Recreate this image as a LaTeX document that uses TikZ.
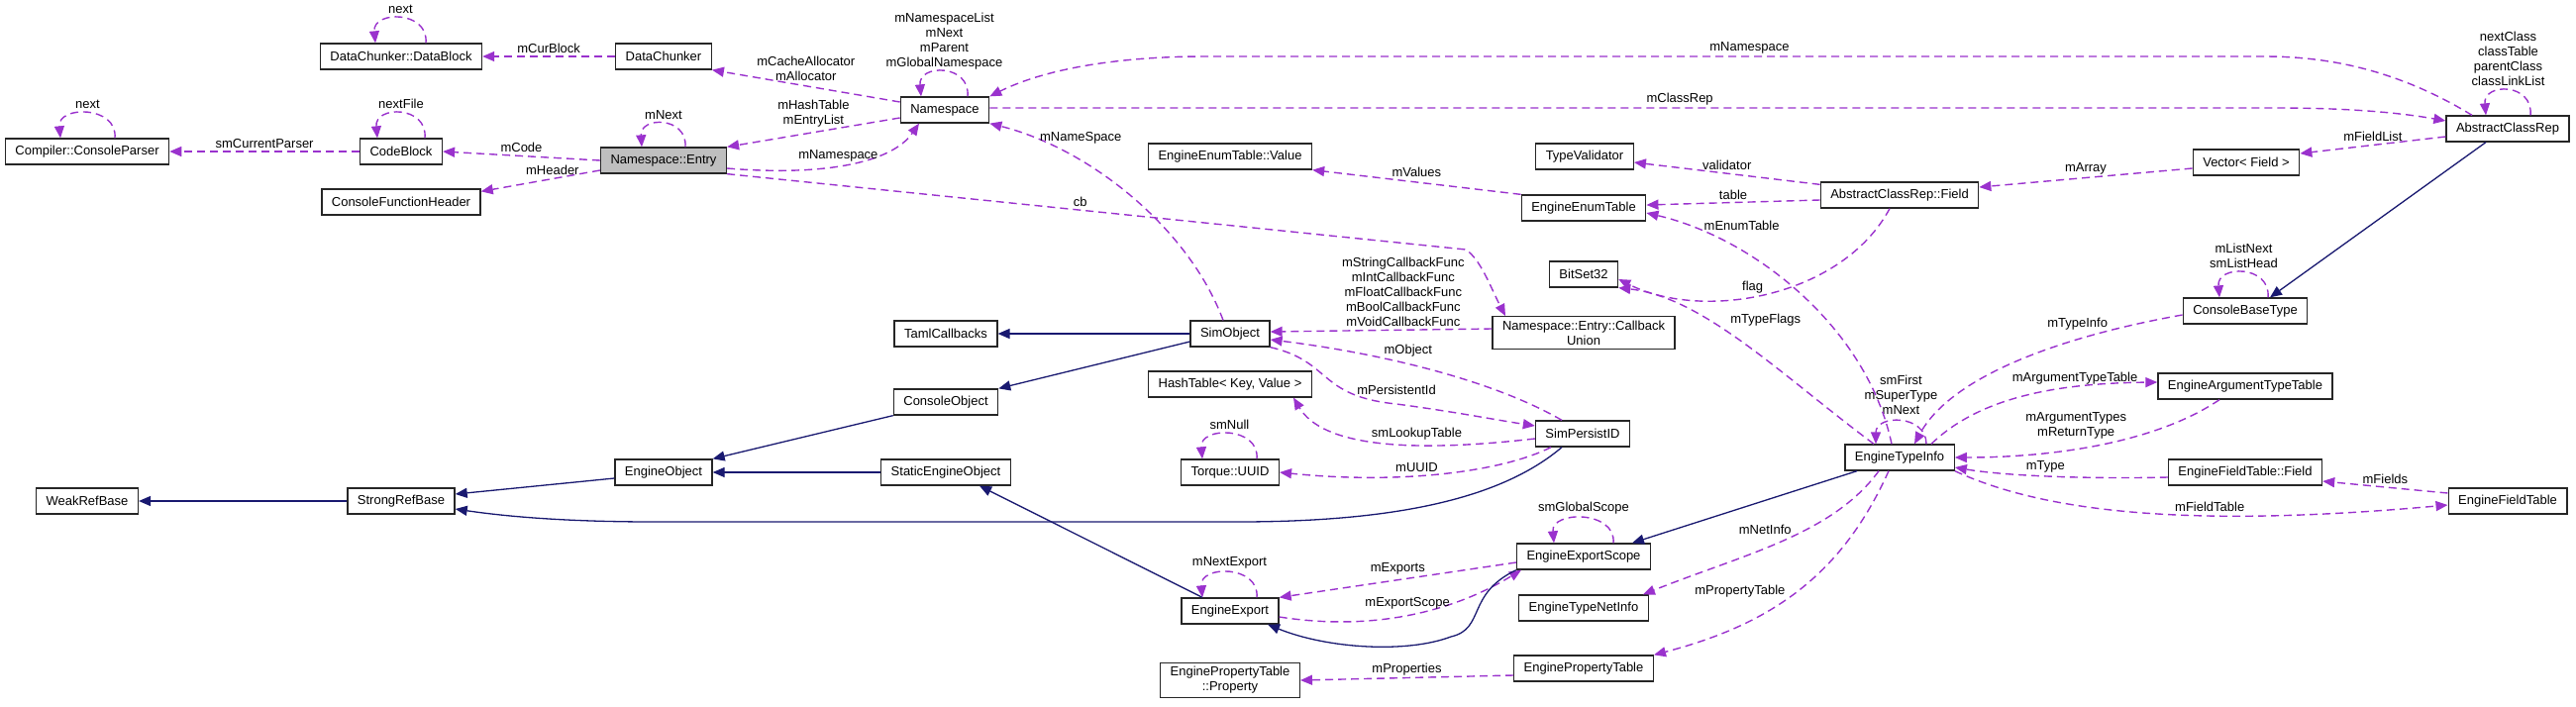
\documentclass[tikz,border=0pt]{standalone}
\usepackage{fontspec}
\setmainfont{Liberation Sans}
\usepackage{xcolor}
\usepackage{tikz}
\usetikzlibrary{arrows.meta, calc}
\definecolor{usecol}{HTML}{9A32CD}
\definecolor{inhcol}{HTML}{191970}

\begin{document}
\begin{tikzpicture}[
    x=1pt, y=-1pt,
    font=\fontsize{13}{15}\selectfont,
    cls/.style={rectangle, draw=black!85, line width=1.3pt, fill=white, minimum height=26pt, inner xsep=10pt, inner ysep=4pt, align=center},
    focus/.style={cls, fill=black!25},
    member/.style={draw=usecol, line width=1.4pt, dash pattern=on 8pt off 5pt, -{Triangle[length=12pt, width=10pt]}},
    derived/.style={draw=inhcol, line width=1.3pt, -{Triangle[length=12pt, width=10pt]}},
    lbl/.style={inner sep=1pt, align=center}
]
\useasboundingbox (0,0) rectangle (2601,713);

% classes
\node[cls] (dblock) at (405,57) {DataChunker::DataBlock};
\node[cls] (chunker) at (670,57) {DataChunker};
\node[cls] (ns) at (954,111) {Namespace};
\node[cls] (parser) at (88,153) {Compiler::ConsoleParser};
\node[cls] (codeblk) at (405,153) {CodeBlock};
\node[focus] (entry) at (670,162) {Namespace::Entry};
\node[cls] (fnhdr) at (405,204) {ConsoleFunctionHeader};
\node[cls] (enumval) at (1242,158) {EngineEnumTable::Value};
\node[cls] (validator) at (1600,158) {TypeValidator};
\node[cls] (enumtab) at (1599,210) {EngineEnumTable};
\node[cls] (acr) at (2532,130) {AbstractClassRep};
\node[cls] (fieldvec) at (2268,164) {Vector< Field >};
\node[cls] (acrfield) at (1918,197) {AbstractClassRep::Field};
\node[cls] (cbt) at (2267,314) {ConsoleBaseType};
\node[cls] (bitset) at (1599,277) {BitSet32};
\node[cls] (cbunion) at (1599,336) {Namespace::Entry::Callback\\Union};
\node[cls] (taml) at (955,337) {TamlCallbacks};
\node[cls] (simobj) at (1242,337) {SimObject};
\node[cls] (conobj) at (955,406) {ConsoleObject};
\node[cls] (hashtab) at (1242,388) {HashTable< Key, Value >};
\node[cls] (persist) at (1598,438) {SimPersistID};
\node[cls] (engobj) at (670,477) {EngineObject};
\node[cls] (staticobj) at (955,477) {StaticEngineObject};
\node[cls] (uuid) at (1242,477) {Torque::UUID};
\node[cls] (weakref) at (88,506) {WeakRefBase};
\node[cls] (strongref) at (405,506) {StrongRefBase};
\node[cls] (typeinfo) at (1918,462) {EngineTypeInfo};
\node[cls] (argtab) at (2267,390) {EngineArgumentTypeTable};
\node[cls] (fieldtabf) at (2267,477) {EngineFieldTable::Field};
\node[cls] (fieldtab) at (2532,506) {EngineFieldTable};
\node[cls] (scope) at (1599,562) {EngineExportScope};
\node[cls] (export) at (1242,617) {EngineExport};
\node[cls] (netinfo) at (1599,614) {EngineTypeNetInfo};
\node[cls] (proptab) at (1599,675) {EnginePropertyTable};
\node[cls] (prop) at (1242,687) {EnginePropertyTable\\::Property};

% self references
\draw[member] ([xshift=25pt]dblock.north) .. controls +(3,-33) and +(-3,-33) .. ([xshift=-26pt]dblock.north) node[lbl, midway, above=3pt] {next};
\draw[member] ([xshift=28pt]parser.north) .. controls +(3,-33) and +(-3,-33) .. ([xshift=-27pt]parser.north) node[lbl, midway, above=3pt] {next};
\draw[member] ([xshift=24pt]codeblk.north) .. controls +(3,-33) and +(-3,-33) .. ([xshift=-24pt]codeblk.north) node[lbl, midway, above=3pt] {nextFile};
\draw[member] ([xshift=22pt]entry.north) .. controls +(2,-31) and +(-2,-31) .. ([xshift=-22pt]entry.north) node[lbl, midway, above=3pt] {mNext};
\draw[member] ([xshift=23pt]ns.north) .. controls +(3,-33) and +(-3,-33) .. ([xshift=-24pt]ns.north) node[lbl, midway, above=1pt] {mNamespaceList\\mNext\\mParent\\mGlobalNamespace};
\draw[member] ([xshift=23pt]acr.north) .. controls +(3,-33) and +(-3,-33) .. ([xshift=-22pt]acr.north) node[lbl, midway, above=3pt] {nextClass\\classTable\\parentClass\\classLinkList};
\draw[member] ([xshift=23pt]cbt.north) .. controls +(3,-33) and +(-3,-33) .. ([xshift=-26pt]cbt.north) node[lbl, midway, above=3pt] {mListNext\\smListHead};
\draw[member] ([xshift=27pt]uuid.north) .. controls +(3,-33) and +(-3,-33) .. ([xshift=-28pt]uuid.north) node[lbl, midway, above=3pt] {smNull};
\draw[member] ([xshift=27pt]export.north) .. controls +(3,-33) and +(-3,-33) .. ([xshift=-28pt]export.north) node[lbl, midway, above=3pt] {mNextExport};
\draw[member] ([xshift=30pt]scope.north) .. controls +(3,-33) and +(-3,-33) .. ([xshift=-30pt]scope.north) node[lbl, midway, above=3pt] {smGlobalScope};
\draw[member] ([xshift=27pt]typeinfo.north) .. controls +(0,-30) and +(0,-30) .. ([xshift=-24pt]typeinfo.north) node[lbl, midway, above=6pt] {smFirst\\mSuperType\\mNext};

% members
\draw[member] (chunker.west) -- (dblock.east) node[lbl, midway, above=2pt] {mCurBlock};
\draw[member] (ns.170) -- (chunker.south east) node[lbl, midway, above=4pt] {mCacheAllocator\\mAllocator};
\draw[member] (codeblk.west) -- (parser.east) node[lbl, midway, above=2pt] {smCurrentParser};
\draw[member] (entry.west) -- (codeblk.east) node[lbl, midway, above=2pt] {mCode};
\draw[member] ([yshift=-10pt]entry.west) -- ([yshift=-3pt]fnhdr.north east) node[lbl, pos=0.4, above=2pt] {mHeader};
\draw[member] (ns.190) -- (entry.north east) node[lbl, midway, above=4pt] {mHashTable\\mEntryList};
\draw[member] ([yshift=-8pt]entry.east) .. controls (830,178) and (900,165) .. ([xshift=-26pt]ns.south) node[lbl, pos=0.45, above=3pt] {mNamespace};
\draw[member] ([xshift=-36pt]acr.north) .. controls (2420,70) and (2350,57) .. (2286,57) -- (1217,57) node[lbl, pos=0.486, above=1pt] {mNamespace} .. controls (1120,57) and (1050,72) .. (ns.north east);
\draw[member] ([yshift=2pt]ns.east) -- (2300,109) node[lbl, pos=0.5357, above=1pt] {mClassRep} .. controls (2380,109) and (2430,115) .. ([yshift=8pt]acr.west);
\draw[member] ([xshift=-7pt]simobj.north) .. controls (1200,230) and (1100,150) .. (ns.south east) node[lbl, pos=0.85, right=4pt] {mNameSpace};
\draw[member] (entry.south east) -- (1480,252) node[lbl, pos=0.478, above=2pt] {cb} .. controls (1495,262) and (1505,290) .. ([xshift=-79pt]cbunion.north);
\draw[member] (enumtab.north west) -- (enumval.south east) node[lbl, midway, above=4pt] {mValues};
\draw[member] ([yshift=-3pt]acrfield.north west) -- ([yshift=-6pt]validator.east) node[lbl, midway, above=2pt] {validator};
\draw[member] ([yshift=-5pt]acrfield.west) -- ([yshift=3pt]enumtab.east) node[lbl, midway, above=1pt] {table};
\draw[member] ([xshift=-8pt]typeinfo.north) .. controls (1885,330) and (1770,240) .. ([yshift=-5pt]enumtab.east) node[lbl, pos=0.7, above=20pt] {mEnumTable};
\draw[member] ([yshift=-8pt]acr.west) -- ([yshift=9pt]fieldvec.east) node[lbl, midway, above=2pt] {mFieldList};
\draw[member] ([yshift=-6pt]fieldvec.west) -- ([yshift=8pt]acrfield.east) node[lbl, midway, above=2pt] {mArray};
\draw[member] ([xshift=-10pt]acrfield.south) .. controls (1860,300) and (1720,325) .. ([yshift=-5pt]bitset.east) node[lbl, pos=0.55, above=1pt] {flag};
\draw[member] ([xshift=-26pt]typeinfo.north) .. controls (1800,380) and (1720,300) .. (bitset.south east) node[lbl, pos=0.5, above=16pt, xshift=22pt] {mTypeFlags};
\draw[member] ([yshift=-4pt]cbt.west) .. controls (2080,340) and (1970,380) .. ([xshift=15pt]typeinfo.north) node[lbl, pos=0.3, above=8pt] {mTypeInfo};
\draw[member] ([yshift=4pt]cbunion.west) -- ([yshift=2pt]simobj.east) node[lbl, pos=0.4, above=2pt] {mStringCallbackFunc\\mIntCallbackFunc\\mFloatCallbackFunc\\mBoolCallbackFunc\\mVoidCallbackFunc};
\draw[member] ([xshift=-21pt]persist.north) .. controls (1500,380) and (1380,355) .. ([yshift=-6pt]simobj.east) node[lbl, pos=0.55, above=6pt] {mObject};
\draw[member] (simobj.south east) .. controls (1345,365) and (1330,400) .. (1410,408) node[lbl, above=8pt] {mPersistentId} .. controls (1470,416) and (1510,424) .. ([yshift=8pt]persist.west);
\draw[member] ([yshift=-5pt]persist.west) .. controls (1420,458) and (1335,450) .. ([xshift=64pt]hashtab.south) node[lbl, pos=0.35, above=4pt] {smLookupTable};
\draw[member] ([xshift=-32pt]persist.south) .. controls (1520,475) and (1420,490) .. (uuid.east) node[lbl, pos=0.6, above=2pt] {mUUID};
\draw[member] ([xshift=32pt]typeinfo.north) .. controls (2000,400) and (2080,387) .. ([yshift=4pt]argtab.west) node[lbl, pos=0.7, above=1pt] {mArgumentTypeTable};
\draw[member] ([xshift=-26pt]argtab.south) .. controls (2180,445) and (2080,462) .. (typeinfo.east) node[lbl, pos=0.6, above=8pt] {mArgumentTypes\\mReturnType};
\draw[member] ([yshift=-5pt]fieldtabf.west) .. controls (2100,484) and (2020,480) .. ([yshift=-10pt]typeinfo.east) node[lbl, midway, above=2pt] {mType};
\draw[member] ([yshift=8pt]fieldtab.west) -- ([yshift=-9pt]fieldtabf.east) node[lbl, midway, above=2pt] {mFields};
\draw[member] (typeinfo.south east) .. controls (2080,525) and (2250,530) .. ([yshift=-4pt]fieldtab.west) node[lbl, pos=0.6, above=2pt] {mFieldTable};
\draw[member] ([yshift=-6pt]scope.west) -- (export.north east) node[lbl, midway, above=4pt] {mExports};
\draw[member] ([yshift=-6pt]export.east) .. controls (1400,640) and (1480,610) .. ([xshift=-63pt]scope.south) node[lbl, pos=0.45, above=4pt] {mExportScope};
\draw[member] ([xshift=-21pt]typeinfo.south) .. controls (1850,540) and (1760,560) .. ([xshift=-6pt]netinfo.north east) node[lbl, pos=0.45, above left=0pt] {mNetInfo};
\draw[member] ([xshift=-11pt]typeinfo.south) .. controls (1860,580) and (1790,630) .. (proptab.north east) node[lbl, pos=0.55, above left=0pt] {mPropertyTable};
\draw[member] ([yshift=-7pt]proptab.west) -- (prop.east) node[lbl, midway, above=1pt] {mProperties};

% base classes
\draw[derived] ([xshift=-22pt]acr.south) -- ([xshift=25pt]cbt.north);
\draw[derived] (simobj.west) -- (taml.east);
\draw[derived] ([yshift=-8pt]simobj.west) -- (conobj.north east);
\draw[derived] (conobj.south west) -- (engobj.north east);
\draw[derived] (staticobj.west) -- (engobj.east);
\draw[derived] ([yshift=-6pt]engobj.west) -- ([yshift=7pt]strongref.east);
\draw[derived] (strongref.west) -- (weakref.east);
\draw[derived] ([xshift=-21pt]persist.south) .. controls (1520,500) and (1420,527) .. (1250,527) -- (660,527) .. controls (560,527) and (500,520) .. ([yshift=-8pt]strongref.east);
\draw[derived] ([xshift=-28pt]export.north) -- ([xshift=34pt]staticobj.south);
\draw[derived] ([xshift=-43pt]typeinfo.south) -- ([xshift=49pt]scope.north);
\draw[derived] (scope.south west) .. controls (1480,600) and (1500,635) .. (1465,643) .. controls (1420,660) and (1340,655) .. ([xshift=38pt]export.south);
\end{tikzpicture}
\end{document}
